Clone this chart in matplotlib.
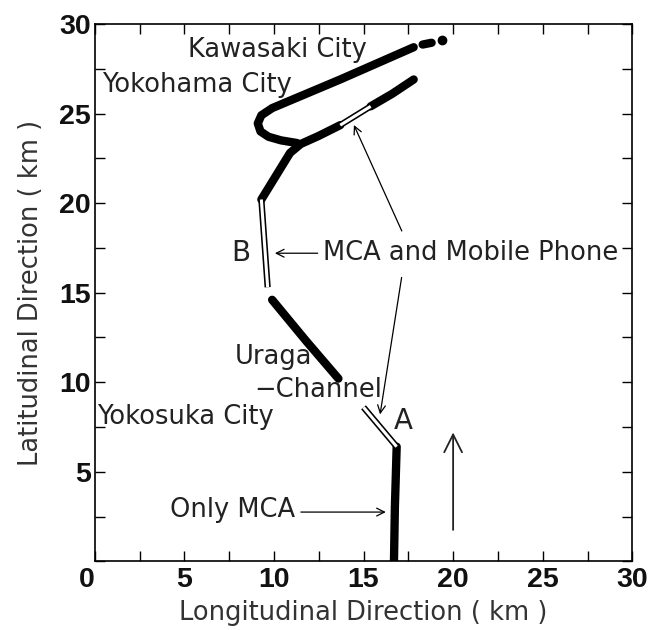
import matplotlib
matplotlib.use("Agg")
import matplotlib.pyplot as plt
from matplotlib.ticker import MultipleLocator

# Ship track pieces (km). "solid" = MCA only, "double" = MCA and mobile phone
track_solid = [
    [(16.7, 0.0), (16.75, 3.0), (16.85, 6.4)],
    [(13.6, 10.2), (11.8, 12.3), (9.9, 14.6)],
    [(9.3, 20.2), (10.1, 21.5), (10.9, 22.8), (11.5, 23.3), (12.5, 23.75), (13.7, 24.35)],
    [(15.4, 25.4), (16.6, 26.1), (17.8, 26.9)],
    [(11.3, 23.35), (10.4, 23.5), (9.7, 23.7), (9.25, 24.0), (9.1, 24.45),
     (9.3, 24.9), (9.9, 25.3), (13.7, 26.9), (17.8, 28.7)],
]
track_double = [
    [(16.85, 6.4), (15.0, 8.6)],
    [(9.65, 15.3), (9.3, 20.2)],
    [(13.7, 24.35), (15.4, 25.4)],
]
kawasaki_tail = [(18.3, 28.85), (18.8, 28.95)]
kawasaki_dot = (19.4, 29.1)

ticks = [0, 5, 10, 15, 20, 25, 30]

fig = plt.figure(figsize=(6.67, 6.3), dpi=100)
ax = fig.add_axes([0.142, 0.109, 0.806, 0.853])

for seg in track_solid:
    xs, ys = zip(*seg)
    ax.plot(xs, ys, color="black", lw=6, solid_capstyle="round",
            solid_joinstyle="round")
for seg in track_double:
    xs, ys = zip(*seg)
    ax.plot(xs, ys, color="black", lw=4.5, solid_capstyle="butt")
    ax.plot(xs, ys, color="white", lw=2.2, solid_capstyle="butt")

xs, ys = zip(*kawasaki_tail)
ax.plot(xs, ys, color="black", lw=6, solid_capstyle="round")
ax.plot(*kawasaki_dot, "o", color="black", ms=6)

txt = dict(family="DejaVu Sans", fontsize=18.5, color="#222222", va="center")
arrow = dict(arrowstyle="->", color="black", lw=0.9, mutation_scale=14)

ax.text(5.2, 28.55, "Kawasaki City", **txt)
ax.text(0.4, 26.6, "Yokohama City", **txt)
ax.text(0.15, 8.05, "Yokosuka City", **txt)
ax.text(7.8, 11.4, "Uraga", **txt)
ax.text(8.9, 9.55, "−Channel", **txt)
ax.text(12.75, 17.2, "MCA and Mobile Phone", **txt)
ax.text(7.6, 17.2, "B", family="DejaVu Sans", fontsize=20, color="#222222",
        va="center")
ax.text(16.7, 7.85, "A", family="DejaVu Sans", fontsize=20, color="#222222",
        va="center")
ax.text(11.2, 2.85, "Only MCA", ha="right", **txt)

ax.annotate("", xy=(9.9, 17.2), xytext=(12.6, 17.2), arrowprops=arrow)
ax.annotate("", xy=(14.4, 24.5), xytext=(17.2, 18.3), arrowprops=arrow)
ax.annotate("", xy=(15.9, 8.05), xytext=(17.15, 16.0), arrowprops=arrow)
ax.annotate("", xy=(16.4, 2.75), xytext=(11.35, 2.75), arrowprops=arrow)
ax.annotate("", xy=(20.0, 7.35), xytext=(20.0, 1.6),
            arrowprops=dict(arrowstyle="->", color="#222222", lw=1.3,
                            mutation_scale=32))

ax.set_xlim(0, 30)
ax.set_ylim(0, 30)
ax.set_xticks(ticks)
ax.set_yticks(ticks)
ax.set_yticklabels([""] + [str(t) for t in ticks[1:]])
ax.xaxis.set_minor_locator(MultipleLocator(2.5))
ax.yaxis.set_minor_locator(MultipleLocator(2.5))
ax.tick_params(which="both", direction="in", top=True, right=True,
               length=7, width=1.0)
for lab in ax.get_xticklabels() + ax.get_yticklabels():
    lab.set_family("Liberation Sans")
    lab.set_fontsize(20.5)
    lab.set_fontweight("bold")
    lab.set_color("#111111")
ax.get_xticklabels()[0].set_horizontalalignment("right")
ax.tick_params(axis="x", pad=4)
ax.tick_params(axis="y", pad=3)
for sp in ax.spines.values():
    sp.set_linewidth(1.2)

ax.set_xlabel("Longitudinal Direction ( km )", fontsize=18.5, color="#333333",
              family="DejaVu Sans", labelpad=5)
ax.set_ylabel("Latitudinal Direction ( km )", fontsize=18.5, color="#333333",
              family="DejaVu Sans", labelpad=11)

fig.savefig("out.png", dpi=100)
